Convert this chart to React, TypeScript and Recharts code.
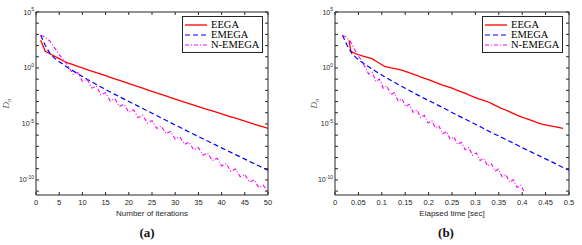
import { LineChart, Line, XAxis, YAxis, Legend } from 'recharts'

// iteration index (left panel x values)
const ITERATIONS = [
    1, 2, 3, 4, 5, 6, 7, 8, 9, 10, 11, 12, 13, 14, 15, 16, 17, 18, 19, 20,
    21, 22, 23, 24, 25, 26, 27, 28, 29, 30, 31, 32, 33, 34, 35, 36, 37, 38, 39, 40,
    41, 42, 43, 44, 45, 46, 47, 48, 49, 50
]

// D_n per iteration
const EEGA = [
    2.95e2, 3.1e1, 1.86e1, 1.12e1, 6.9, 4.0, 2.75, 1.95, 1.38, 1.0,
    7.24e-1, 5.25e-1, 3.8e-1, 2.82e-1, 2.04e-1, 1.48e-1, 1.07e-1, 7.76e-2, 5.62e-2, 4.07e-2,
    2.95e-2, 2.14e-2, 1.55e-2, 1.12e-2, 8.13e-3, 5.89e-3, 4.37e-3, 3.16e-3, 2.29e-3, 1.66e-3,
    1.2e-3, 8.71e-4, 6.46e-4, 4.79e-4, 3.55e-4, 2.63e-4, 1.95e-4, 1.45e-4, 1.07e-4, 7.94e-5,
    5.89e-5, 4.37e-5, 3.24e-5, 2.4e-5, 1.78e-5, 1.32e-5, 9.77e-6, 7.24e-6, 5.37e-6, 3.98e-6
]
const EMEGA = [
    8.3e2, 1.0e2, 2.0e1, 7.6, 3.63, 1.86, 1.0, 5.5e-1, 3.09e-1, 1.74e-1,
    1.0e-1, 5.75e-2, 3.39e-2, 2.0e-2, 1.2e-2, 7.24e-3, 4.37e-3, 2.69e-3, 1.66e-3, 1.02e-3,
    6.31e-4, 3.89e-4, 2.4e-4, 1.48e-4, 9.12e-5, 5.62e-5, 3.47e-5, 2.14e-5, 1.32e-5, 8.13e-6,
    5.01e-6, 3.09e-6, 1.91e-6, 1.2e-6, 7.59e-7, 4.68e-7, 2.95e-7, 1.86e-7, 1.15e-7, 7.24e-8,
    4.57e-8, 2.88e-8, 1.82e-8, 1.15e-8, 7.24e-9, 4.57e-9, 2.88e-9, 1.82e-9, 1.15e-9, 7.41e-10
]
const N_EMEGA = [
    8.3e2, 5.6e2, 2.5e2, 6.3e1, 1.58e1, 5.0, 1.26, 2.82e-1, 3.98e-1, 6.31e-2,
    1.0e-1, 1.58e-2, 2.51e-2, 3.98e-3, 6.31e-3, 1.12e-3, 1.78e-3, 3.55e-4, 5.62e-4, 1.12e-4,
    1.78e-4, 3.72e-5, 5.89e-5, 1.23e-5, 1.95e-5, 4.07e-6, 6.46e-6, 1.35e-6, 2.14e-6, 4.47e-7,
    7.08e-7, 1.48e-7, 2.34e-7, 4.9e-8, 7.76e-8, 1.62e-8, 2.57e-8, 5.37e-9, 8.51e-9, 1.78e-9,
    2.82e-9, 5.89e-10, 9.33e-10, 1.95e-10, 3.09e-10, 6.46e-11, 1.02e-10, 2.14e-11, 3.39e-11, 7.08e-12
]

// elapsed time [sec] at each iteration (right panel x values)
const EEGA_TIME = [
    0.030, 0.034, 0.044, 0.060, 0.079, 0.088, 0.094, 0.100, 0.106, 0.120,
    0.138, 0.149, 0.158, 0.167, 0.176, 0.185, 0.195, 0.204, 0.212, 0.221,
    0.230, 0.240, 0.250, 0.259, 0.267, 0.276, 0.284, 0.291, 0.300, 0.309,
    0.319, 0.329, 0.335, 0.341, 0.348, 0.354, 0.362, 0.369, 0.376, 0.383,
    0.390, 0.398, 0.406, 0.415, 0.424, 0.432, 0.442, 0.457, 0.472, 0.487
]
const EMEGA_TIME = [
    0.016, 0.026, 0.036, 0.046, 0.056, 0.066, 0.076, 0.086, 0.095, 0.105,
    0.115, 0.125, 0.135, 0.145, 0.155, 0.165, 0.174, 0.184, 0.194, 0.204,
    0.214, 0.224, 0.234, 0.244, 0.253, 0.263, 0.273, 0.283, 0.293, 0.303,
    0.313, 0.322, 0.332, 0.342, 0.352, 0.362, 0.372, 0.382, 0.392, 0.401,
    0.411, 0.421, 0.431, 0.441, 0.451, 0.461, 0.471, 0.480, 0.490, 0.500
]
const N_EMEGA_TIME = [
    0.016, 0.024, 0.032, 0.040, 0.048, 0.056, 0.064, 0.072, 0.080, 0.087,
    0.095, 0.103, 0.111, 0.119, 0.127, 0.135, 0.143, 0.151, 0.159, 0.167,
    0.175, 0.183, 0.191, 0.199, 0.207, 0.215, 0.222, 0.230, 0.238, 0.246,
    0.254, 0.262, 0.270, 0.278, 0.286, 0.294, 0.302, 0.310, 0.318, 0.326,
    0.334, 0.342, 0.349, 0.357, 0.365, 0.373, 0.381, 0.389, 0.397, 0.405
]

const ITER_TICKS = [0, 5, 10, 15, 20, 25, 30, 35, 40, 45, 50]
const TIME_TICKS = [0, 0.05, 0.1, 0.15, 0.2, 0.25, 0.3, 0.35, 0.4, 0.45, 0.5]
const DECADE_TICKS = [
    1e-11, 1e-10, 1e-9, 1e-8, 1e-7, 1e-6, 1e-5, 1e-4, 1e-3, 1e-2,
    1e-1, 1, 1e1, 1e2, 1e3, 1e4, 1e5
]
const Y_DOMAIN = [4.5e-12, 1e5]

const SANS = '"Liberation Sans", Arial, sans-serif'
const SERIF = '"Liberation Serif", "Times New Roman", serif'
const INK = '#262626'

const SERIES = [
    { name: 'EEGA', color: '#ff0000', dash: undefined, width: 1.3 },
    { name: 'EMEGA', color: '#0000ff', dash: '5 3', width: 1.2 },
    { name: 'N-EMEGA', color: '#ff00ff', dash: '4 2 1 2', width: 1.1 },
]

type Pt = { x: number, y: number }
const zip = (xs: number[], ys: number[]): Pt[] => xs.map((x, i) => ({ x, y: ys[i] }))

const LEFT_LINES = [zip(ITERATIONS, EEGA), zip(ITERATIONS, EMEGA), zip(ITERATIONS, N_EMEGA)]
const RIGHT_LINES = [zip(EEGA_TIME, EEGA), zip(EMEGA_TIME, EMEGA), zip(N_EMEGA_TIME, N_EMEGA)]

function LegendBox() {
    return (
        <div style={{
            width: 81, height: 37, boxSizing: 'border-box', border: `1px solid ${INK}`,
            background: '#fff', padding: '3px 2px', fontFamily: SERIF, fontSize: 10.5
        }}>
            {SERIES.map(s => (
                <div key={s.name} style={{ display: 'flex', alignItems: 'center', height: 10 }}>
                    <svg width={23} height={6} style={{ marginRight: 3 }}>
                        <line x1={0} x2={22} y1={3} y2={3} stroke={s.color} strokeWidth={s.width} strokeDasharray={s.dash} />
                    </svg>
                    <span style={{ lineHeight: '10px' }}>{s.name}</span>
                </div>
            ))}
        </div>
    )
}

interface PanelProps {
    width: number
    leftW: number
    rightW: number
    lines: Pt[][]
    xDomain: number[]
    xTicks: number[]
    xLabel: string
    yLabelX: number
    legendLeft: number
}

function Panel({ width, leftW, rightW, lines, xDomain, xTicks, xLabel, yLabelX, legendLeft }: PanelProps) {
    return (
        <LineChart width={width} height={245} margin={{ top: 0, right: 0, bottom: 0, left: 0 }}>
            <XAxis
                xAxisId="b" type="number" dataKey="x" domain={xDomain} ticks={xTicks} interval={0}
                allowDataOverflow height={50} tickSize={0} tickMargin={0} tickLine={false}
                axisLine={{ stroke: INK }}
                tick={(p: any) => (
                    <g key={`b-${p.payload.value}`}>
                        <line x1={p.x} x2={p.x} y1={p.y} y2={p.y - 3} stroke={INK} />
                        <text x={p.x} y={p.y + 10} textAnchor="middle" fontSize={7.5} fontFamily={SANS} fill={INK}>
                            {String(p.payload.value)}
                        </text>
                    </g>
                )}
                label={(p: any) => (
                    <text x={p.viewBox.x + p.viewBox.width / 2} y={p.viewBox.y + 21} textAnchor="middle"
                        fontSize={8} fontFamily={SANS} fill={INK}>{xLabel}</text>
                )}
            />
            <XAxis
                xAxisId="t" orientation="top" type="number" dataKey="x" domain={xDomain} ticks={xTicks}
                interval={0} allowDataOverflow height={12} tickSize={0} tickMargin={0} tickLine={false}
                axisLine={{ stroke: INK }}
                tick={(p: any) => (
                    <line key={`t-${p.payload.value}`} x1={p.x} x2={p.x} y1={p.y} y2={p.y + 3} stroke={INK} />
                )}
            />
            <YAxis
                yAxisId="l" type="number" scale="log" domain={Y_DOMAIN} ticks={DECADE_TICKS} interval={0}
                allowDataOverflow width={leftW} tickSize={0} tickMargin={0} tickLine={false}
                axisLine={{ stroke: INK }}
                tick={(p: any) => {
                    const e = Math.round(Math.log10(p.payload.value))
                    return (
                        <g key={`l-${e}`}>
                            <line x1={p.x} x2={p.x + 3} y1={p.y} y2={p.y} stroke={INK} />
                            {e % 5 === 0 && (
                                <text x={p.x - 2} y={p.y + 2.5} textAnchor="end" fontSize={7} fontFamily={SANS} fill={INK}>
                                    10<tspan dy={-3.5} fontSize={5}>{String(e)}</tspan>
                                </text>
                            )}
                        </g>
                    )
                }}
                label={(p: any) => (
                    <text transform={`translate(${yLabelX}, ${p.viewBox.y + p.viewBox.height / 2}) rotate(-90)`}
                        textAnchor="middle" fontSize={9} fontStyle="italic" fontFamily={SERIF} fill="#555">
                        D<tspan dy={2} fontSize={6.5}>n</tspan>
                    </text>
                )}
            />
            <YAxis
                yAxisId="r" orientation="right" type="number" scale="log" domain={Y_DOMAIN}
                ticks={DECADE_TICKS} interval={0} allowDataOverflow width={rightW}
                tickSize={0} tickMargin={0} tickLine={false} axisLine={{ stroke: INK }}
                tick={(p: any) => (
                    <line key={`r-${p.payload.value}`} x1={p.x} x2={p.x - 3} y1={p.y} y2={p.y} stroke={INK} />
                )}
            />
            <Legend
                layout="vertical" align="center" verticalAlign="middle"
                wrapperStyle={{ left: legendLeft, top: 16, width: 81 }}
                content={() => <LegendBox />}
            />
            {SERIES.map((s, i) => (
                <Line
                    key={s.name} name={s.name} xAxisId="b" yAxisId="l" data={lines[i]} dataKey="y"
                    type="linear" stroke={s.color} strokeWidth={s.width} strokeDasharray={s.dash}
                    dot={false} activeDot={false} isAnimationActive={false}
                />
            ))}
        </LineChart>
    )
}

const captionStyle = {
    position: 'absolute' as const, top: 225, width: 60, textAlign: 'center' as const,
    fontFamily: SERIF, fontWeight: 'bold' as const, fontSize: 13, lineHeight: '16px', color: '#111'
}

export default function App() {
    return (
        <div style={{ position: 'absolute', left: 0, top: 0, width: 582, height: 245, background: '#fff', overflow: 'hidden' }}>
            <div style={{ position: 'absolute', left: 0, top: 0 }}>
                <Panel width={290} leftW={36} rightW={22} lines={LEFT_LINES} xDomain={[0, 50]}
                    xTicks={ITER_TICKS} xLabel="Number of iterations" yLabelX={9} legendLeft={182} />
            </div>
            <div style={{ position: 'absolute', left: 290, top: 0 }}>
                <Panel width={292} leftW={45} rightW={13} lines={RIGHT_LINES} xDomain={[0, 0.5]}
                    xTicks={TIME_TICKS} xLabel="Elapsed time [sec]" yLabelX={27} legendLeft={192} />
            </div>
            <div style={{ ...captionStyle, left: 117 }}>(a)</div>
            <div style={{ ...captionStyle, left: 416 }}>(b)</div>
        </div>
    )
}
